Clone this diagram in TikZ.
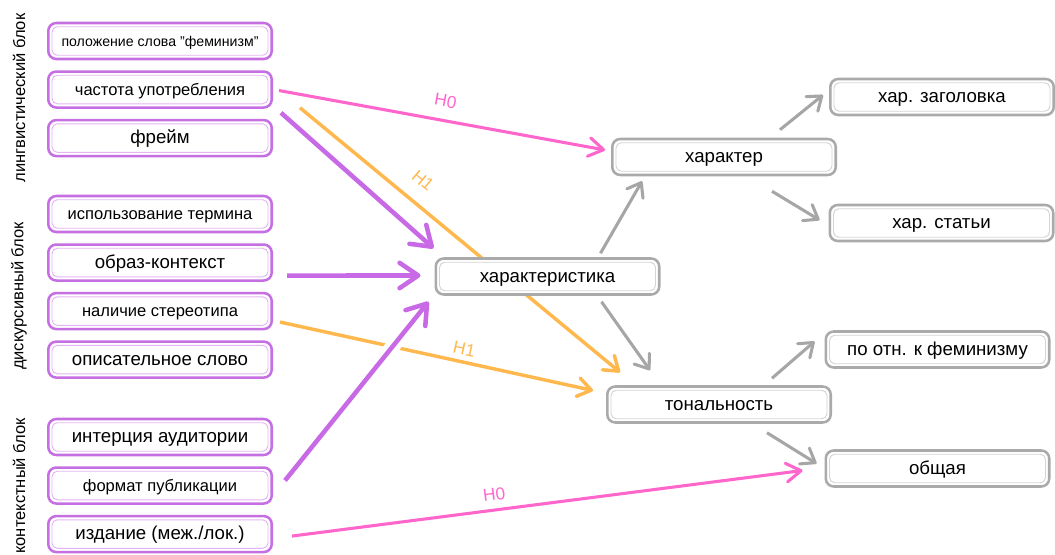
\documentclass[tikz,border=0pt]{standalone}
\usepackage{fontspec}
\setmainfont{Liberation Sans}
\usetikzlibrary{arrows.meta, positioning, backgrounds}

\definecolor{boxpurple}{RGB}{197,111,227}
\definecolor{boxpurplein}{RGB}{228,180,244}
\definecolor{boxgray}{RGB}{170,170,170}
\definecolor{boxgrayin}{RGB}{212,212,212}
\definecolor{linkpink}{RGB}{255,102,204}
\definecolor{linkpurple}{RGB}{200,105,230}
\definecolor{linkorange}{RGB}{255,184,77}
\definecolor{linkgray}{RGB}{166,166,166}

\begin{document}
\begin{tikzpicture}[
    x=0.75pt, y=-0.75pt,
    node distance=7.5pt,
    innerframe/.style={path picture={\draw[#1, line width=0.7pt, rounded corners=4pt]
        ([shift={(2.8pt,-2.8pt)}]path picture bounding box.north west) rectangle
        ([shift={(-2.8pt,2.8pt)}]path picture bounding box.south east);}},
    factor/.style={rectangle, draw=boxpurple, line width=1.9pt, fill=white, rounded corners=6pt, minimum width=167.6pt, minimum height=27pt, inner sep=2pt, text height=0.84em, text depth=0pt, font=\fontsize{14}{16}\selectfont, innerframe=boxpurplein},
    target/.style={factor, draw=boxgray, innerframe=boxgrayin},
    fsmall/.style={font=\fontsize{10.6}{12}\selectfont},
    fmid/.style={font=\fontsize{12.4}{14}\selectfont},
    blocklabel/.style={rotate=90, font=\fontsize{12.4}{14}\selectfont},
    hlabel/.style={font=\fontsize{13}{15}\selectfont, inner sep=1pt},
    hzero/.style={draw=linkpink, line width=2.3pt, -{Straight Barb[length=11pt, width=14pt, round]}},
    hone/.style={draw=linkorange, line width=2.6pt, -{Straight Barb[length=10pt, width=14pt, round]}},
    direct/.style={draw=linkpurple, line width=3.4pt, -{Straight Barb[length=14pt, width=19pt, round]}},
    sub/.style={draw=linkgray, line width=2.3pt, -{Straight Barb[length=9.5pt, width=14pt, round]}}
]
\useasboundingbox (0,0) rectangle (1055,555);

% block labels
\node[blocklabel] (lingv) at (19,98) {лингвистический блок};
\node[blocklabel] (diskurs) at (19,296) {дискурсивный блок};
\node[blocklabel] (kontext) at (19,486) {контекстный блок};

% left factors
\node[factor, fsmall] (polozh) at (160,41) {положение слова "феминизм"};
\node[factor, fmid, below=of polozh] (chast) {частота употребления};
\node[factor, below=of chast] (freim) {фрейм};

\node[factor, fmid] (ispolz) at (160,214) {использование термина};
\node[factor, below=of ispolz] (obraz) {образ-контекст};
\node[factor, fmid, below=of obraz] (nalich) {наличие стереотипа};
\node[factor, below=of nalich] (opis) {описательное слово};

\node[factor] (interc) at (160,437) {интерция аудитории};
\node[factor, fmid, below=of interc] (format) {формат публикации};
\node[factor, below=of format] (izdan) {издание (меж./лок.)};

% targets
\node[target] (harakt) at (547.5,276.5) {характеристика};
\node[target] (harakter) at (724,157) {характер};
\node[target] (tonal) at (719,404.5) {тональность};
\node[target] (zagol) at (942,97) {хар. заголовка};
\node[target] (stati) at (941.5,223) {хар. статьи};
\node[target] (feminizm) at (937.5,349.5) {по отн. к феминизму};
\node[target] (obsh) at (937.5,468.5) {общая};

\begin{scope}[on background layer]
\draw[hone] ([shift={(27,-1)}]chast.south east) -- node[pos=0.34, above=10pt, sloped, hlabel, text=linkorange] {H1} ([shift={(14,-13)}]tonal.north west);
\draw[hone] ([shift={(7,11)}]nalich.east) -- node[pos=0.58, above=3pt, sloped, hlabel, text=linkorange] {H1} ([shift={(-13,-14)}]tonal.west);

\draw[hzero] ([shift={(6,1)}]chast.east) -- node[above=8pt, sloped, hlabel, text=linkpink] {H0} ([shift={(-6,-7)}]harakter.west);
\draw[hzero] ([shift={(19,2)}]izdan.east) -- node[pos=0.4, above=5pt, sloped, hlabel, text=linkpink] {H0} ([shift={(-22,2)}]obsh.west);

\draw[direct] ([shift={(8,4)}]chast.south east) -- ([shift={(-1,-9)}]harakt.north west);
\draw[direct] ([shift={(14,13)}]obraz.east) -- ([shift={(-14,-1)}]harakt.west);
\draw[direct, preaction={draw=white, line width=11pt, -}] ([shift={(12,-5)}]format.east) -- ([shift={(-6,6)}]harakt.south west);

\draw[sub] ([shift={(53,-4)}]harakt.north) -- ([shift={(31,5)}]harakter.south west);
\draw[sub] ([shift={(54,6)}]harakt.south) -- ([shift={(44,-15)}]tonal.north west);
\draw[sub] ([shift={(-57,-8)}]harakter.north east) -- ([shift={(-6,-2)}]zagol.west);
\draw[sub] ([shift={(-65,15)}]harakter.south east) -- ([shift={(-9,-3)}]stati.west);
\draw[sub] ([shift={(-60,-7)}]tonal.north east) -- ([shift={(-10,-8)}]feminizm.west);
\draw[sub] ([shift={(-65,9)}]tonal.south east) -- ([shift={(-8,-5)}]obsh.west);
\end{scope}

\end{tikzpicture}
\end{document}
